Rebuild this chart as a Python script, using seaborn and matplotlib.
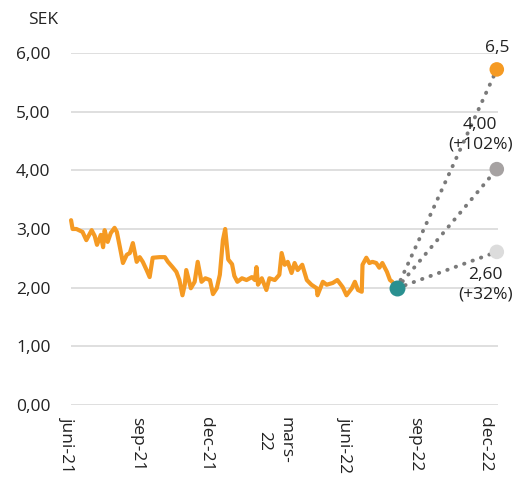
import pandas as pd
import matplotlib.pyplot as plt
import seaborn as sns

# Share price (SEK)
price_dates = [
    "2021-06-07", "2021-06-09", "2021-06-14", "2021-06-22", "2021-06-27", "2021-07-04",
    "2021-07-08", "2021-07-11", "2021-07-16", "2021-07-19", "2021-07-21", "2021-07-25",
    "2021-07-29", "2021-08-03", "2021-08-06", "2021-08-10", "2021-08-14", "2021-08-19",
    "2021-08-23", "2021-08-27", "2021-09-01", "2021-09-05", "2021-09-09", "2021-09-14",
    "2021-09-18", "2021-09-22", "2021-10-01", "2021-10-08", "2021-10-12", "2021-10-18",
    "2021-10-23", "2021-10-27", "2021-10-31", "2021-11-03", "2021-11-05", "2021-11-11",
    "2021-11-16", "2021-11-20", "2021-11-25", "2021-11-30", "2021-12-06", "2021-12-10",
    "2021-12-15", "2021-12-19", "2021-12-23", "2021-12-26", "2021-12-30", "2022-01-04",
    "2022-01-07", "2022-01-11", "2022-01-17", "2022-01-23", "2022-01-30", "2022-02-03",
    "2022-02-05", "2022-02-07", "2022-02-12", "2022-02-18", "2022-02-22", "2022-03-01",
    "2022-03-07", "2022-03-10", "2022-03-14", "2022-03-18", "2022-03-23", "2022-03-27",
    "2022-03-31", "2022-04-06", "2022-04-12", "2022-04-18", "2022-04-25", "2022-04-26",
    "2022-05-03", "2022-05-08", "2022-05-16", "2022-05-22", "2022-05-29", "2022-06-03",
    "2022-06-10", "2022-06-14", "2022-06-18", "2022-06-23", "2022-06-24", "2022-06-29",
    "2022-07-03", "2022-07-07", "2022-07-12", "2022-07-16", "2022-07-20", "2022-07-26",
    "2022-07-30", "2022-08-02", "2022-08-08",
]
price_values = [
    3.15, 3.00, 3.00, 2.95, 2.81, 2.98,
    2.88, 2.73, 2.90, 2.69, 2.98, 2.78,
    2.93, 3.02, 2.95, 2.69, 2.42, 2.56,
    2.59, 2.76, 2.44, 2.52, 2.44, 2.30,
    2.18, 2.51, 2.52, 2.52, 2.44, 2.35,
    2.27, 2.13, 1.87, 2.05, 2.30, 1.99,
    2.10, 2.44, 2.10, 2.16, 2.13, 1.89,
    1.99, 2.22, 2.81, 3.00, 2.48, 2.40,
    2.20, 2.10, 2.16, 2.13, 2.18, 2.13,
    2.35, 2.05, 2.16, 1.96, 2.16, 2.13,
    2.22, 2.59, 2.39, 2.44, 2.25, 2.42,
    2.30, 2.39, 2.13, 2.05, 1.99, 1.87,
    2.10, 2.05, 2.08, 2.13, 2.01, 1.87,
    1.99, 2.10, 1.96, 1.93, 2.39, 2.51,
    2.42, 2.44, 2.42, 2.34, 2.42, 2.27,
    2.13, 2.10, 1.99,
]

# current price and the three targets
start_date = "2022-08-08"
start_value = 1.99
target_date = "2022-12-17"
target_values = [5.72, 4.02, 2.61]
target_labels = ["6,5", "4,00\n(+102%)", "2,60\n(+32%)"]
target_colors = ["#F59A23", "#A6A2A2", "#DCDCDC"]

tick_dates = ["2021-06-01", "2021-09-01", "2021-12-01", "2022-03-01",
              "2022-06-01", "2022-09-01", "2022-12-01"]
tick_labels = ["juni-21", "sep-21", "dec-21", "mars-\n22", "juni-22", "sep-22", "dec-22"]
y_ticks = [0, 1, 2, 3, 4, 5, 6]

sns.set_style("white")
plt.rcParams['font.family'] = ['Open Sans', 'DejaVu Sans']
fs = 12.5
txt = "#222222"

df = pd.DataFrame({"date": pd.to_datetime(price_dates), "value": price_values})

fig = plt.figure(figsize=(5.19, 4.79), dpi=100)
ax = fig.add_axes([0.1134, 0.1545, 0.8644, 0.7349])

x0 = pd.Timestamp("2021-06-01") - pd.Timedelta(days=10)
x1 = pd.Timestamp("2022-12-01") + pd.Timedelta(days=30)
ax.set_xlim(x0, x1)
ax.set_ylim(0, 6)

# gridlines only over the plotting area
ax.hlines(y_ticks, pd.Timestamp("2021-06-07"), pd.Timestamp("2022-12-19"),
          color="#D9D9D9", linewidth=1.2, zorder=0)

sns.lineplot(data=df, x="date", y="value", color="#F59A23", linewidth=3.0, ax=ax, zorder=2)

sd = pd.Timestamp(start_date)
td = pd.Timestamp(target_date)
for val in target_values:
    ax.plot([sd, td], [start_value, val], color="#7A7A7A", linewidth=2.8,
            linestyle=(0, (0.1, 2.2)), dash_capstyle="round", zorder=3)

pts = pd.DataFrame({"date": [td] * 3, "value": target_values})
sns.scatterplot(data=pts, x="date", y="value", hue=pts.index.astype(str),
                palette=target_colors, s=110, edgecolor="none", legend=False,
                ax=ax, zorder=4, clip_on=False)
ax.scatter([sd], [start_value], s=110, color="#2A9090", zorder=5, clip_on=False)

# value labels
ax.annotate(target_labels[0], (td, target_values[0]), xytext=(0, 10), textcoords="offset points",
            ha="center", va="bottom", fontsize=fs, color=txt)
ax.annotate(target_labels[1], (td, target_values[1]), xytext=(-12, 12), textcoords="offset points",
            ha="center", va="bottom", fontsize=fs, color=txt, linespacing=1.25)
ax.annotate(target_labels[2], (td, target_values[2]), xytext=(-8, -11), textcoords="offset points",
            ha="center", va="top", fontsize=fs, color=txt, linespacing=1.25)

ax.set_yticks(y_ticks)
ax.set_yticklabels([f"{v:.2f}".replace(".", ",") for v in y_ticks])
ax.set_xticks(pd.to_datetime(tick_dates))
ax.set_xticklabels(tick_labels, rotation=270, ha="center", va="top", linespacing=1.5)
ax.tick_params(axis="y", length=0, pad=6, labelsize=fs, labelcolor=txt)
ax.tick_params(axis="x", length=0, pad=9, labelsize=fs, labelcolor=txt)
ax.set_xlabel("")
ax.set_ylabel("")
for side in ax.spines.values():
    side.set_visible(False)

fig.text(43 / 519, 1 - 20 / 479, "SEK", ha="center", va="center", fontsize=fs, color=txt)

fig.savefig("out.png", dpi=100)
